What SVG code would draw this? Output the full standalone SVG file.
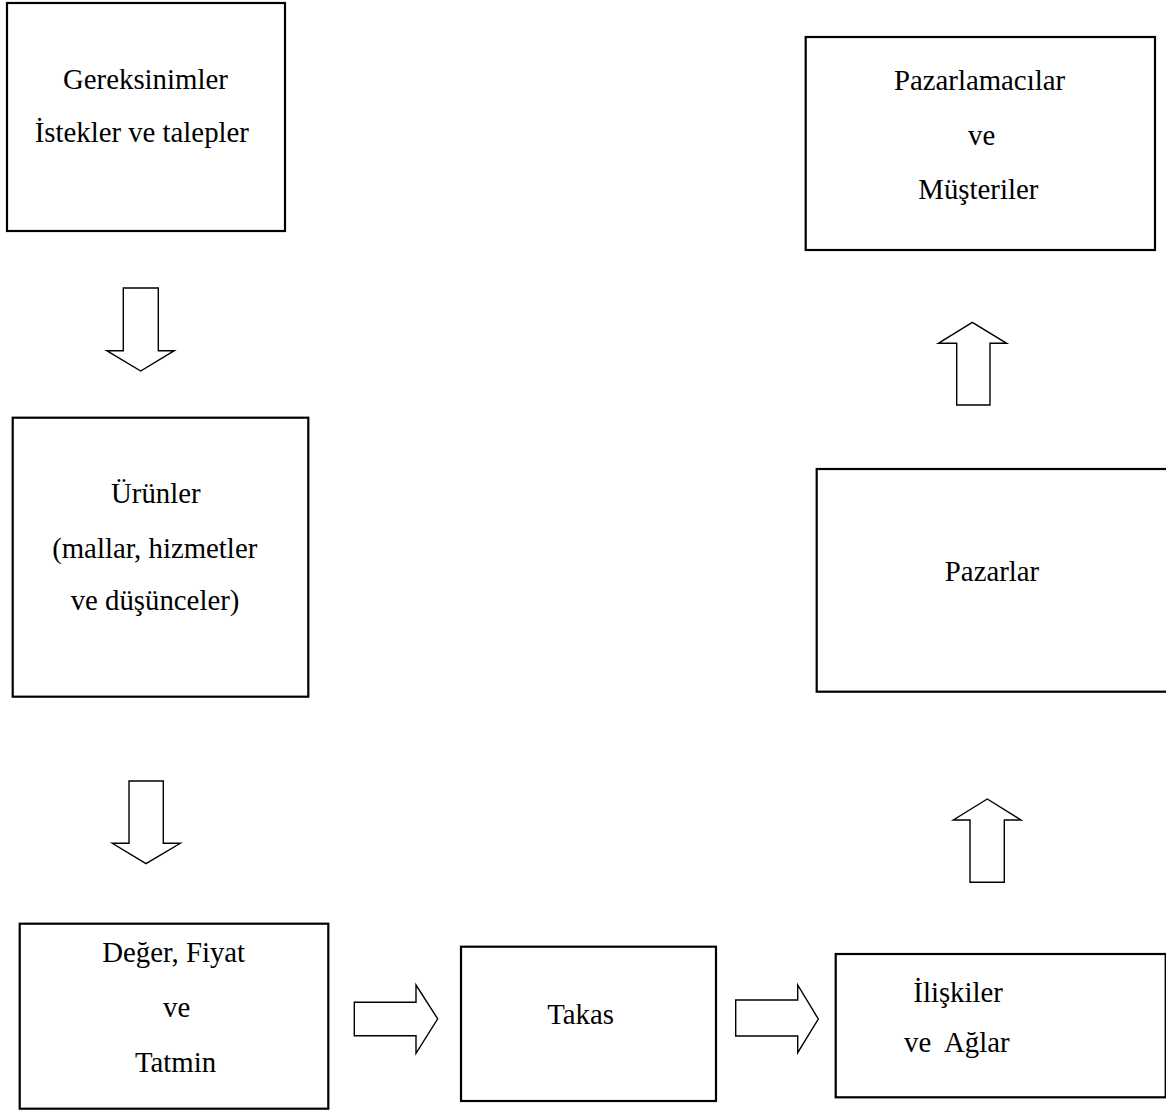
<svg xmlns="http://www.w3.org/2000/svg" width="1166" height="1110" viewBox="0 0 1166 1110">
<style>
.box{fill:#fff;stroke:#000;stroke-width:2.2}
.arr{fill:#fff;stroke:#000;stroke-width:1.4;stroke-linejoin:miter}
.t{font-family:'Liberation Serif','DejaVu Serif',serif;font-size:28.8px;fill:#000}
.c{text-anchor:middle}
</style>
<rect width="1166" height="1110" fill="#fff"/>
<g id="connectors">
<polygon class="arr" points="123.3,288 158.3,288 158.3,350.7 174.3,350.7 140.7,371 106.7,350.7 123.3,350.7"/>
<polygon class="arr" points="129,781 163.3,781 163.3,843.3 180.3,843.3 146,863.7 112.3,843.3 129,843.3"/>
<polygon class="arr" points="354.3,1002.3 416,1002.3 416,985 437.7,1018.8 416,1053.3 416,1035.7 354.3,1035.7"/>
<polygon class="arr" points="735.7,1000 797.7,1000 797.7,985 818.3,1019 797.7,1052.7 797.7,1036 735.7,1036"/>
<polygon class="arr" points="956.7,405 990,405 990,343.3 1006.7,343.3 972.3,322.3 938.3,343.3 956.7,343.3"/>
<polygon class="arr" points="970,882.3 1004.3,882.3 1004.3,820 1021,820 987.3,799 953.3,820 970,820"/>
</g>
<g font-family="Liberation Serif, serif" font-size="28.8">
<g id="node-gereksinimler">
<rect class="box" x="7" y="3" width="278" height="228"/>
<text class="t c" x="145.4" y="89">Gereksinimler</text>
<text class="t c" x="141.8" y="142">İstekler ve talepler</text>
</g>
<g id="node-urunler">
<rect class="box" x="12.7" y="417.7" width="295.6" height="279"/>
<text class="t c" x="155.8" y="503">Ürünler</text>
<text class="t c" x="154.7" y="558">(mallar, hizmetler</text>
<text class="t c" x="155" y="610">ve düşünceler)</text>
</g>
<g id="node-deger">
<rect class="box" x="19.7" y="923.7" width="308.6" height="185"/>
<text class="t c" x="173.7" y="962.3">Değer, Fiyat</text>
<text class="t c" x="176.7" y="1016.7">ve</text>
<text class="t c" x="175.5" y="1071.7">Tatmin</text>
</g>
<g id="node-takas">
<rect class="box" x="461" y="946.7" width="255" height="154.3"/>
<text class="t c" x="580.5" y="1024.3">Takas</text>
</g>
<g id="node-iliskiler">
<rect class="box" x="835.7" y="954" width="330" height="143.3"/>
<text class="t" x="913.3" y="1001.7">İlişkiler</text>
<text class="t" x="904" y="1051.7" xml:space="preserve">ve  Ağlar</text>
</g>
<g id="node-pazarlar">
<rect class="box" x="816.7" y="469" width="352" height="222.7"/>
<text class="t c" x="992" y="581">Pazarlar</text>
</g>
<g id="node-pazarlamacilar">
<rect class="box" x="805.7" y="37" width="349.3" height="213"/>
<text class="t c" x="979.5" y="90">Pazarlamacılar</text>
<text class="t c" x="981.7" y="145">ve</text>
<text class="t c" x="978.3" y="199">Müşteriler</text>
</g>
</g>
</svg>
